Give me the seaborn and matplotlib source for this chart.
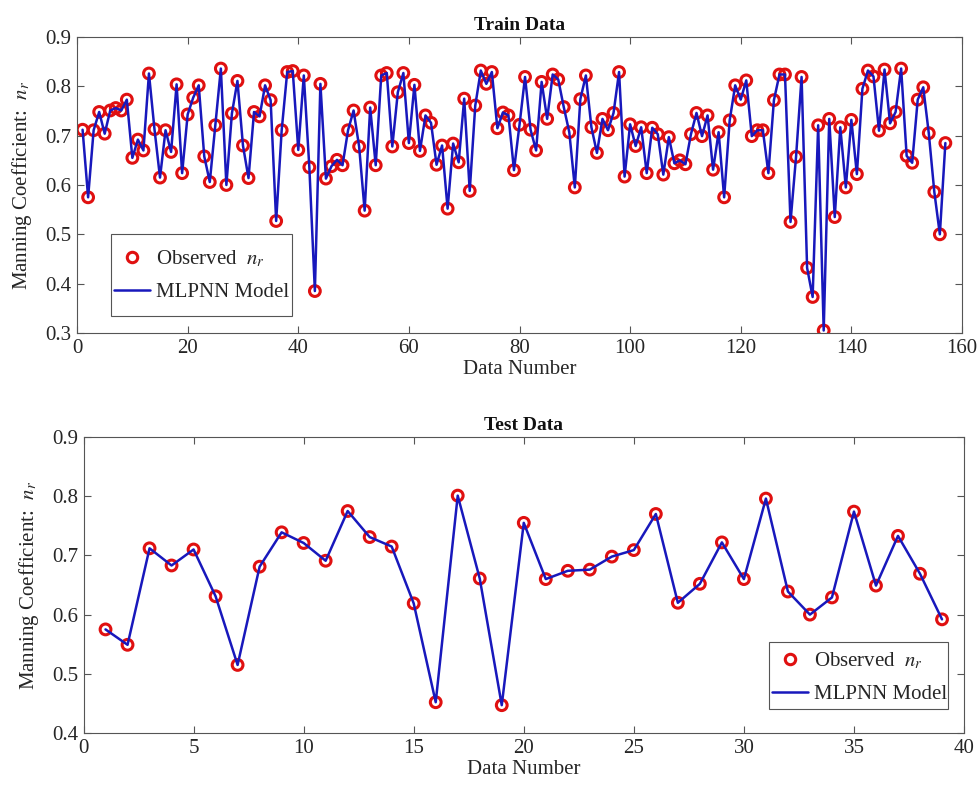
import numpy as np
import pandas as pd
import seaborn as sns
import matplotlib
matplotlib.use("Agg")
import matplotlib.pyplot as plt
from matplotlib.lines import Line2D
from matplotlib.patches import Rectangle

# ---------------- data ----------------
train_nr = [
    0.712, 0.575, 0.711, 0.748, 0.704, 0.751, 0.756, 0.751, 0.773, 0.655,
    0.692, 0.670, 0.826, 0.713, 0.615, 0.711, 0.667, 0.804, 0.624, 0.743,
    0.777, 0.802, 0.658, 0.606, 0.721, 0.836, 0.600, 0.745, 0.811, 0.680,
    0.614, 0.748, 0.739, 0.802, 0.772, 0.527, 0.711, 0.829, 0.831, 0.671,
    0.822, 0.636, 0.385, 0.805, 0.613, 0.638, 0.651, 0.640, 0.711, 0.751,
    0.678, 0.548, 0.757, 0.640, 0.822, 0.827, 0.678, 0.788, 0.827, 0.685,
    0.803, 0.669, 0.741, 0.726, 0.641, 0.680, 0.552, 0.684, 0.646, 0.775,
    0.588, 0.761, 0.832, 0.805, 0.829, 0.715, 0.747, 0.741, 0.630, 0.722,
    0.819, 0.712, 0.670, 0.809, 0.734, 0.824, 0.814, 0.758, 0.707, 0.595,
    0.774, 0.822, 0.717, 0.665, 0.734, 0.711, 0.746, 0.829, 0.617, 0.723,
    0.679, 0.717, 0.624, 0.716, 0.703, 0.621, 0.697, 0.644, 0.650, 0.642,
    0.703, 0.746, 0.699, 0.741, 0.631, 0.707, 0.575, 0.731, 0.802, 0.773,
    0.812, 0.699, 0.711, 0.711, 0.624, 0.772, 0.824, 0.824, 0.525, 0.657,
    0.819, 0.432, 0.373, 0.721, 0.305, 0.734, 0.535, 0.717, 0.595, 0.732,
    0.622, 0.795, 0.832, 0.820, 0.710, 0.834, 0.725, 0.748, 0.836, 0.659,
    0.645, 0.773, 0.798, 0.705, 0.586, 0.500, 0.685,
]
test_nr = [
    0.575, 0.549, 0.712, 0.683, 0.710, 0.631, 0.515, 0.681, 0.739, 0.721,
    0.691, 0.775, 0.731, 0.715, 0.619, 0.452, 0.801, 0.661, 0.447, 0.755,
    0.660, 0.674, 0.676, 0.698, 0.709, 0.770, 0.620, 0.652, 0.722, 0.660,
    0.796, 0.639, 0.600, 0.629, 0.774, 0.649, 0.733, 0.669, 0.592,
]
train_idx = list(range(1, len(train_nr) + 1))
test_idx = list(range(1, len(test_nr) + 1))

train_xticks = [0, 20, 40, 60, 80, 100, 120, 140, 160]
train_yticks = [0.3, 0.4, 0.5, 0.6, 0.7, 0.8, 0.9]
test_xticks = [0, 5, 10, 15, 20, 25, 30, 35, 40]
test_yticks = [0.4, 0.5, 0.6, 0.7, 0.8, 0.9]

df_train = pd.DataFrame({"n": train_idx, "nr": train_nr})
df_test = pd.DataFrame({"n": test_idx, "nr": test_nr})

# ---------------- style ----------------
sns.set_theme(style="ticks")
plt.rcParams["font.family"] = ["Liberation Serif", "DejaVu Serif"]
plt.rcParams["mathtext.fontset"] = "stix"
plt.rcParams["axes.edgecolor"] = "#555555"
plt.rcParams["axes.linewidth"] = 0.8

RED = "#e01010"
BLUE = "#1818bc"
TXT = "#262626"
EDGE = "#555555"

fig = plt.figure(figsize=(9.79, 7.87), dpi=100)
ax1 = fig.add_axes([0.0787, 0.5769, 0.9039, 0.3761])
ax2 = fig.add_axes([0.0853, 0.0686, 0.8994, 0.3761])


def draw(ax, df, xlim, ylim, xticks, yticks, title):
    sns.scatterplot(data=df, x="n", y="nr", ax=ax, marker="o", s=60,
                    facecolor="none", edgecolor=RED, linewidth=2.2,
                    zorder=2, legend=False)
    sns.lineplot(data=df, x="n", y="nr", ax=ax, color=BLUE, linewidth=1.8,
                 zorder=3, legend=False)
    ax.set_xlim(*xlim)
    ax.set_ylim(*ylim)
    ax.set_xticks(xticks)
    ax.set_yticks(yticks)
    ax.set_yticklabels([f"{v:.1f}" for v in yticks])
    ax.tick_params(direction="in", top=True, right=True, labelsize=15,
                   length=5, width=0.8, colors=EDGE, labelcolor=TXT,
                   pad=4)
    ax.set_xlabel("Data Number", fontsize=15, color=TXT, labelpad=2)
    ax.set_ylabel(r"Manning Coefficient:  $n_r$", fontsize=15, color=TXT,
                  labelpad=8)
    ax.set_title(title, fontsize=14, fontweight="bold", color="#111111",
                 pad=5)
    for s in ax.spines.values():
        s.set_visible(True)


draw(ax1, df_train, (0, 160), (0.3, 0.9), train_xticks, train_yticks,
     "Train Data")
draw(ax2, df_test, (0, 40), (0.4, 0.9), test_xticks, test_yticks,
     "Test Data")

handles = [
    Line2D([], [], linestyle="none", marker="o", markersize=7.5,
           markerfacecolor="none", markeredgecolor=RED, markeredgewidth=2.2),
    Line2D([], [], color=BLUE, linewidth=1.8),
]
labels = [r"Observed  $n_r$", "MLPNN Model"]


def legend_box(ax, x0, y0, w, h, yc):
    ax.add_patch(Rectangle((x0, y0), w, h, transform=ax.transAxes,
                           facecolor="white", edgecolor=EDGE, linewidth=0.8,
                           zorder=5))
    leg = ax.legend(handles, labels, loc="center left",
                    bbox_to_anchor=(x0 + 0.001, yc), borderaxespad=0,
                    fontsize=15, frameon=False, labelspacing=0.65,
                    handlelength=1.75, borderpad=0.1, handletextpad=0.25)
    leg.set_zorder(6)
    return leg


legend_box(ax1, 0.0384, 0.0574, 0.2045, 0.277, 0.194)
legend_box(ax2, 0.7785, 0.081, 0.2033, 0.2274, 0.1875)

fig.savefig("out.png", dpi=100)
